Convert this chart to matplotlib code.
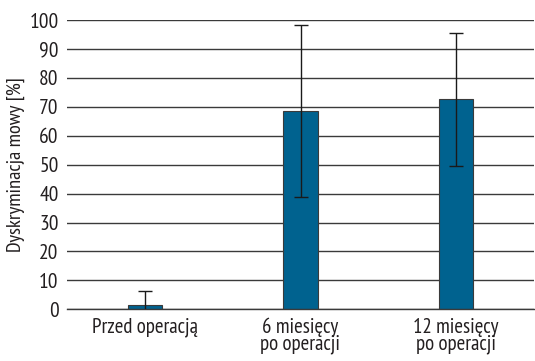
import matplotlib.pyplot as plt

# Data
categories = ["Przed operacją", "6 miesięcy\npo operacji", "12 miesięcy\npo operacji"]
values = [1.6, 68.5, 72.6]
errors = [4.7, 29.7, 23.0]
yticks = list(range(0, 101, 10))

plt.rcParams['font.family'] = ['PT Sans Narrow', 'DejaVu Sans']

fig = plt.figure(figsize=(5.35, 3.61), dpi=100)
ax = fig.add_axes([67 / 535, 1 - 309.3 / 361, (534 - 67) / 535, (309.3 - 20) / 361])

ax.set_axisbelow(True)
ax.yaxis.grid(True, color='#3a3a3a', linewidth=1.0)
x = range(len(categories))
ax.bar(x, values, width=0.22, color='#00628f', edgecolor='#3a3a3a', linewidth=0.8, zorder=2)
ax.errorbar(x, values, yerr=errors, fmt='none', ecolor='#1a1a1a', elinewidth=1.0,
            capsize=4.7, capthick=1.0, zorder=3)

ax.set_xlim(-0.5, 2.5)
ax.set_ylim(0, 100)
ax.set_yticks(yticks)
ax.set_xticks(list(x))
ax.set_xticklabels(categories, fontsize=15, linespacing=0.82, color='#231f20')
ax.tick_params(axis='y', labelsize=15.5, length=0, pad=6, labelcolor='#231f20')
ax.tick_params(axis='x', length=0, pad=6)
for s in ['top', 'right', 'left']:
    ax.spines[s].set_visible(False)
ax.spines['bottom'].set_color('#3a3a3a')
ax.spines['bottom'].set_linewidth(1.0)
ax.set_ylabel('Dyskryminacja mowy [%]', fontsize=14.7, labelpad=3, color='#231f20')

fig.savefig('out.png', dpi=100)
